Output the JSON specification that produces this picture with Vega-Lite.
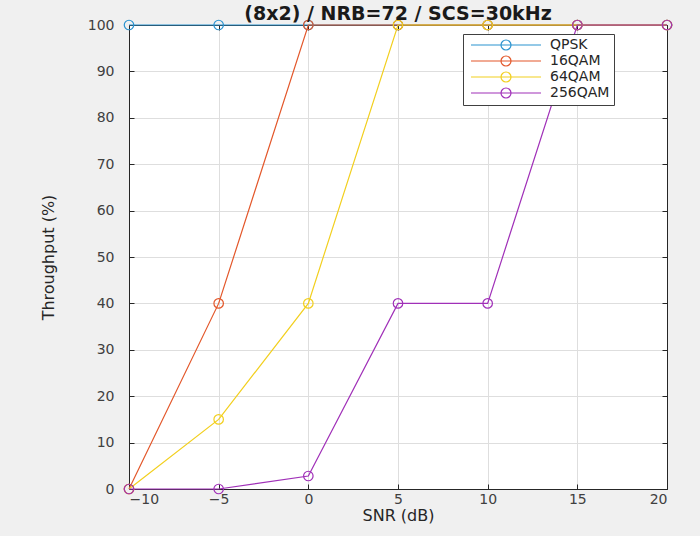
{
  "$schema": "https://vega.github.io/schema/vega-lite/v6.json",
  "width": 538,
  "height": 464,
  "autosize": "none",
  "padding": {"left": 129, "top": 25, "right": 33, "bottom": 47},
  "background": "#f0f0f0",
  "title": {
    "text": "(8x2) / NRB=72 / SCS=30kHz",
    "font": "DejaVu Sans",
    "fontSize": 19,
    "fontWeight": "bold",
    "color": "#1a1a1a",
    "anchor": "middle",
    "baseline": "alphabetic",
    "offset": -21
  },
  "config": {
    "view": {"stroke": "#262626", "strokeWidth": 1, "fill": "white"},
    "axis": {
      "labelFont": "DejaVu Sans",
      "labelFontSize": 14,
      "labelColor": "#404040",
      "titleFont": "DejaVu Sans",
      "titleFontWeight": "normal",
      "titleColor": "#262626",
      "domainColor": "#262626",
      "tickColor": "#262626",
      "gridColor": "#dedede",
      "gridOpacity": 1,
      "tickSize": -5
    },
    "legend": {
      "labelFont": "DejaVu Sans",
      "labelFontSize": 14,
      "labelColor": "#262626"
    }
  },
  "data": {
    "values": [
      {"series": "QPSK", "snr": -10, "tp": 100},
      {"series": "QPSK", "snr": -5, "tp": 100},
      {"series": "QPSK", "snr": 0, "tp": 100},
      {"series": "QPSK", "snr": 5, "tp": 100},
      {"series": "QPSK", "snr": 10, "tp": 100},
      {"series": "QPSK", "snr": 15, "tp": 100},
      {"series": "QPSK", "snr": 20, "tp": 100},
      {"series": "16QAM", "snr": -10, "tp": 0},
      {"series": "16QAM", "snr": -5, "tp": 40},
      {"series": "16QAM", "snr": 0, "tp": 100},
      {"series": "16QAM", "snr": 5, "tp": 100},
      {"series": "16QAM", "snr": 10, "tp": 100},
      {"series": "16QAM", "snr": 15, "tp": 100},
      {"series": "16QAM", "snr": 20, "tp": 100},
      {"series": "64QAM", "snr": -10, "tp": 0},
      {"series": "64QAM", "snr": -5, "tp": 15},
      {"series": "64QAM", "snr": 0, "tp": 40},
      {"series": "64QAM", "snr": 5, "tp": 100},
      {"series": "64QAM", "snr": 10, "tp": 100},
      {"series": "64QAM", "snr": 15, "tp": 100},
      {"series": "64QAM", "snr": 20, "tp": 100},
      {"series": "256QAM", "snr": -10, "tp": 0},
      {"series": "256QAM", "snr": -5, "tp": 0},
      {"series": "256QAM", "snr": 0, "tp": 2.8},
      {"series": "256QAM", "snr": 5, "tp": 40},
      {"series": "256QAM", "snr": 10, "tp": 40},
      {"series": "256QAM", "snr": 15, "tp": 100},
      {"series": "256QAM", "snr": 20, "tp": 100}
    ]
  },
  "encoding": {
    "color": {
      "field": "series",
      "type": "nominal",
      "sort": null,
      "scale": {
        "domain": ["QPSK", "16QAM", "64QAM", "256QAM"],
        "range": ["#2b93cf", "#e3572a", "#f2cf1e", "#a030b8"]
      },
      "legend": {
        "title": null,
        "orient": "none",
        "legendX": 334,
        "legendY": 9,
        "fillColor": "white",
        "strokeColor": "#404040",
        "padding": 4,
        "rowPadding": 0,
        "symbolType": "M-1,0L10.667,0M4,0A0.833,0.833 0 1,1 5.667,0A0.833,0.833 0 1,1 4,0",
        "symbolSize": 144,
        "symbolStrokeWidth": 1.2,
        "symbolFillColor": "transparent",
        "symbolOffset": 3,
        "labelOffset": 66
      }
    }
  },
  "layer": [
    {
      "mark": {"type": "line", "strokeWidth": 1.2},
      "encoding": {
        "x": {
          "field": "snr",
          "type": "quantitative",
          "scale": {"domain": [-10, 20], "nice": false},
          "axis": {
            "orient": "bottom",
            "values": [-10, -5, 0, 5, 10, 15, 20],
            "labelPadding": 8,
            "title": "SNR (dB)",
            "titleFontSize": 16,
            "titlePadding": 1
          }
        },
        "y": {
          "field": "tp",
          "type": "quantitative",
          "scale": {"domain": [0, 100], "nice": false},
          "axis": {
            "orient": "left",
            "values": [0, 10, 20, 30, 40, 50, 60, 70, 80, 90, 100],
            "labelPadding": 20,
            "title": "Throughput (%)",
            "titleFontSize": 16,
            "titlePadding": 31
          }
        }
      }
    },
    {
      "mark": {"type": "point", "shape": "circle", "filled": false, "size": 90, "strokeWidth": 1.2, "opacity": 1},
      "encoding": {
        "x": {
          "field": "snr",
          "type": "quantitative",
          "axis": {"orient": "top", "values": [-10, -5, 0, 5, 10, 15, 20], "labels": false, "grid": false, "title": null}
        },
        "y": {
          "field": "tp",
          "type": "quantitative",
          "axis": {"orient": "right", "values": [0, 10, 20, 30, 40, 50, 60, 70, 80, 90, 100], "labels": false, "grid": false, "title": null}
        }
      }
    }
  ],
  "resolve": {"axis": {"x": "independent", "y": "independent"}}
}
